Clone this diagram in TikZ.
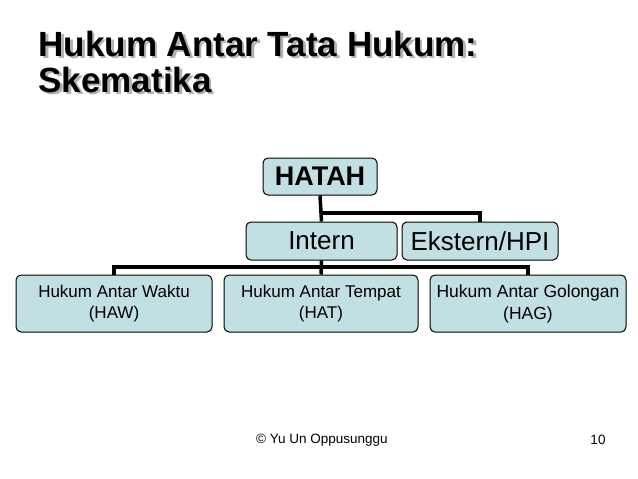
\documentclass[tikz,border=0pt]{standalone}
\usepackage{fontspec}
\setmainfont{Liberation Sans}
\usetikzlibrary{positioning}
\definecolor{boxfill}{RGB}{194,224,228}
\tikzset{
  box/.style={draw=black,fill=boxfill,rounded corners=5pt,line width=1pt,align=center,inner sep=0pt},
  link/.style={line width=3.5pt}
}
\begin{document}
\begin{tikzpicture}[x=1pt,y=-1pt]
\useasboundingbox (0,0) rectangle (638,479);
%title with shadow
\node (shadow) [anchor=west,text=gray!60,font=\bfseries\fontsize{35}{36}\selectfont,align=left] at (37.5,64) {Hukum Antar Tata Hukum:\\Skematika};
\node (title) [anchor=west,font=\bfseries\fontsize{35}{36}\selectfont,align=left] at (35,62) {Hukum Antar Tata Hukum:\\Skematika};
%boxes
\node (hatah) [box,minimum width=114pt,minimum height=37pt,font=\bfseries\fontsize{27}{30}\selectfont] at (320,176.5) {HATAH};
\node (intern) [box,minimum width=151pt,minimum height=38pt,font=\fontsize{26}{30}\selectfont] at (321.5,241) {Intern};
\node (ekstern) [box,minimum width=156pt,minimum height=38pt,font=\fontsize{26}{30}\selectfont] at (480,241) {Ekstern/HPI};
\node (haw) [box,minimum width=196pt,minimum height=57pt,font=\fontsize{17}{21}\selectfont] at (114,303.5) {Hukum Antar Waktu\\(HAW)};
\node (hat) [box,minimum width=194pt,minimum height=57pt,font=\fontsize{17}{21}\selectfont] at (321,303.5) {Hukum Antar Tempat\\(HAT)};
\node (hag) [box,minimum width=196pt,minimum height=57pt,font=\fontsize{17.5}{22}\selectfont] at (528,303.5) {Hukum Antar Golongan\\(HAG)};
%connectors
\coordinate (j1) at (320,213);
\coordinate (j2) at (321,267);
\draw [link] (hatah.south) -- (intern.north);
\draw [link] (j1) -| (ekstern.north);
\draw [link] (intern.south) -- (hat.north);
\draw [link] (j2) -| (haw.north);
\draw [link] (j2) -| (hag.north);
%footer
\node (foot) [font=\fontsize{13.5}{16}\selectfont] at (322,440) {© Yu Un Oppusunggu};
\node (page) [font=\fontsize{13.5}{16}\selectfont] at (598,440) {10};
\end{tikzpicture}
\end{document}
